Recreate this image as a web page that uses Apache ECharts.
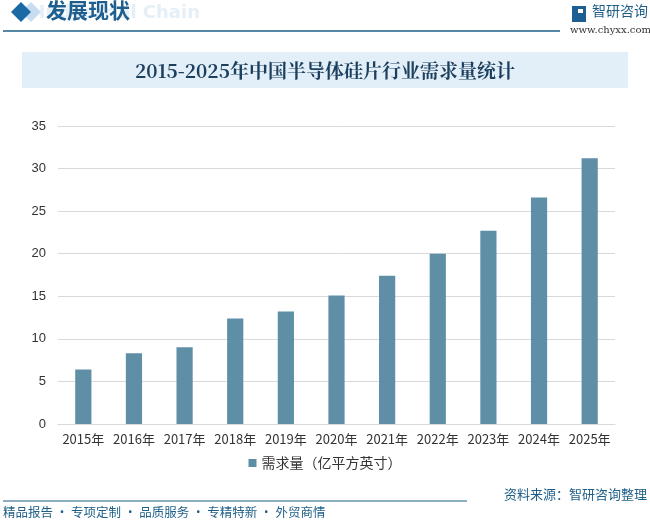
<!DOCTYPE html>
<html><head><meta charset="utf-8">
<script src="https://cdn.jsdelivr.net/npm/echarts@6/dist/echarts.min.js"></script>
<style>html,body{margin:0;padding:0;background:#fff}#c{width:650px;height:524px}</style>
</head><body><div id="c"></div>
<script>
var categories = ['2015年','2016年','2017年','2018年','2019年','2020年','2021年','2022年','2023年','2024年','2025年'];
var demand = [6.4, 8.3, 9.0, 12.4, 13.2, 15.1, 17.4, 20.0, 22.7, 26.6, 31.2];
var seriesName = '需求量（亿平方英寸）';
var chartTitle = '2015-2025年中国半导体硅片行业需求量统计';

var chart = echarts.init(document.getElementById('c'));
var blue = '#1e5f87';
chart.setOption({
  animation: false,
  backgroundColor: '#fff',
  graphic: [
    {type:'text', x:200, y:4, style:{text:'Industrial Chain', fill:'#e5eff8', font:'bold 18px "DejaVu Sans"', textAlign:'right'}},
    {type:'polygon', shape:{points:[[31,2],[41,12],[31,22],[21,12]]}, style:{fill:'#c8ddef'}},
    {type:'polygon', shape:{points:[[21,2],[31,12],[21,22],[11,12]]}, style:{fill:'#1b6aa5'}},
    {type:'text', left:46, top:0, style:{text:'发展现状', fill:'#1f5f8f', font:'bold 21px "Noto Sans CJK SC"'}},
    {type:'line', shape:{x1:3,y1:31,x2:560,y2:31}, style:{stroke:blue, lineWidth:1.5}},
    {type:'rect', shape:{x:572,y:6,width:14,height:16}, style:{fill:'#1d5e93'}},
    {type:'rect', shape:{x:578,y:9,width:5,height:4}, style:{fill:'#fff'}},
    {type:'text', left:592, top:4, style:{text:'智研咨询', fill:'#1e5f87', font:'14px "Noto Sans CJK SC"'}},
    {type:'text', left:570, top:25, style:{text:'www.chyxx.com', fill:'#333', font:'10px "DejaVu Serif"'}},
    {type:'rect', shape:{x:22,y:52,width:606,height:36}, style:{fill:'#e3eff8'}},
    {type:'text', x:325, y:71, style:{text:chartTitle, fill:'#1c3f5e', font:'bold 19px "Noto Serif CJK SC","Noto Sans CJK SC"', textAlign:'center', textVerticalAlign:'middle'}},
    {type:'line', shape:{x1:3,y1:501,x2:467,y2:501}, style:{stroke:blue, lineWidth:1.2}},
    {type:'text', right:3, top:488, style:{text:'资料来源：智研咨询整理', fill:blue, font:'13px "Noto Sans CJK SC"'}},
    {type:'text', left:3, top:506, style:{text:'精品报告 · 专项定制 · 品质服务 · 专精特新 · 外贸商情', fill:blue, font:'12.5px "Noto Sans CJK SC"'}}
  ],
  grid: {left:58, right:35, top:126, bottom:100},
  legend: {
    data:[seriesName], bottom:49, left:'center', itemWidth:8, itemHeight:8, icon:'rect', itemGap:6,
    textStyle:{color:'#333', fontSize:14, fontFamily:'"Noto Sans CJK SC"'}
  },
  xAxis: {
    type:'category', data:categories,
    axisLine:{lineStyle:{color:'#d9d9d9'}}, axisTick:{show:false},
    axisLabel:{color:'#333', fontSize:13, margin:9, interval:0, fontFamily:'"Noto Sans CJK SC"'}
  },
  yAxis: {
    type:'value', min:0, max:35, interval:5,
    axisLine:{show:false}, axisTick:{show:false},
    splitLine:{lineStyle:{color:'#d9d9d9'}},
    axisLabel:{color:'#333', fontSize:13, margin:12, fontFamily:'"Liberation Sans"'}
  },
  series: [{
    name: seriesName, type:'bar', data:demand, barWidth:'32%',
    itemStyle:{color:'#5e8fa6'}
  }]
});
</script></body></html>
